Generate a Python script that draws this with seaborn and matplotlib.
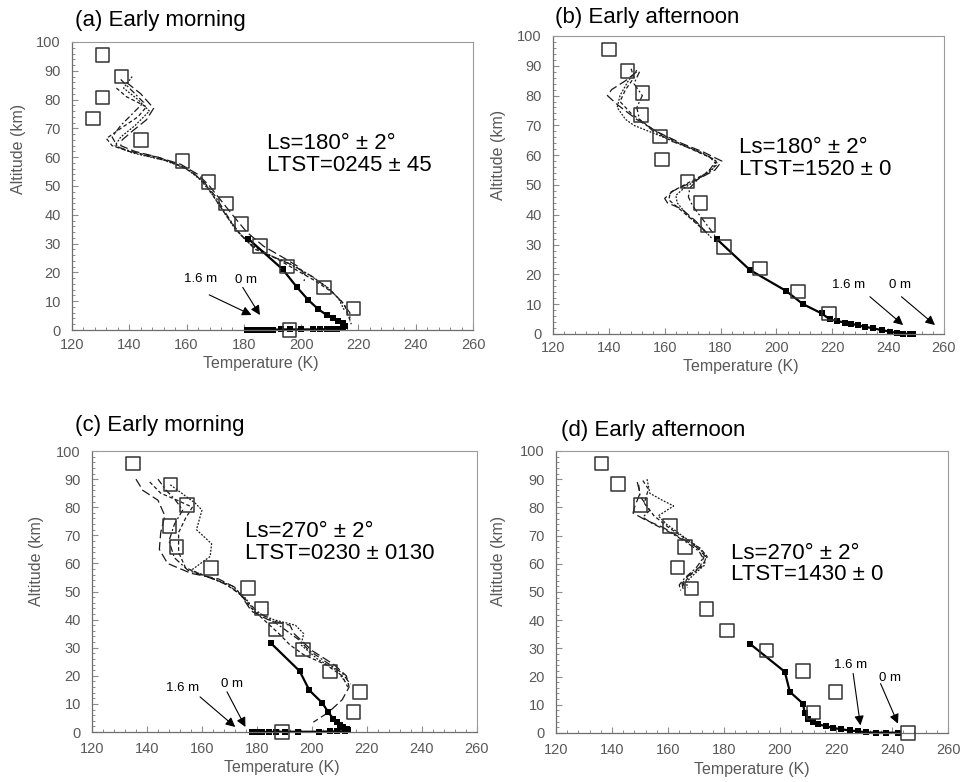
import seaborn as sns
import matplotlib.pyplot as plt
from matplotlib.ticker import MultipleLocator

# === Perfis observados (quadrados abertos) ===
OBS_T_A = [130.6, 137.3, 130.7, 127.4, 144.0, 158.6, 167.6, 173.8, 179.2, 185.6, 195.0, 208.0, 218.2, 195.9]
OBS_Z_A = [95.5, 88.0, 80.8, 73.5, 66.0, 58.7, 51.3, 44.0, 36.8, 29.2, 22.0, 14.8, 7.5, 0.0]
OBS_T_B = [140.1, 146.7, 152.0, 151.5, 158.3, 159.1, 168.1, 172.9, 175.6, 181.2, 194.1, 207.8, 218.9]
OBS_Z_B = [95.5, 88.3, 80.8, 73.5, 66.2, 58.6, 51.1, 43.9, 36.6, 29.1, 22.0, 14.2, 6.9]
OBS_T_C = [135.0, 148.6, 154.6, 148.2, 150.7, 163.3, 176.7, 181.6, 186.9, 196.7, 206.5, 217.5, 215.1, 189.1]
OBS_Z_C = [95.6, 88.1, 80.8, 73.3, 65.9, 58.4, 51.3, 43.9, 36.5, 29.3, 21.6, 14.3, 7.1, 0.0]
OBS_T_D = [136.3, 142.2, 150.2, 160.7, 166.0, 163.4, 168.4, 173.7, 181.1, 195.1, 208.2, 219.8, 212.0, 245.7]
OBS_Z_D = [95.6, 88.2, 80.8, 73.4, 66.0, 58.7, 51.2, 43.9, 36.4, 29.3, 21.9, 14.6, 7.2, 0.0]

# === Perfil do lander (linha cheia com marcadores) ===
LANDER_T_A = [181.6, 193.5, 198.4, 202.5, 206.0, 208.9, 211.2, 213.0, 214.5, 215.3, 214.7, 212.5, 211.0,
              209.0, 206.5, 204.0, 200.0, 196.0, 193.0, 190.0, 188.0, 186.5, 185.0, 184.0, 183.0, 182.0, 181.0]
LANDER_Z_A = [31.6, 21.1, 15.0, 10.4, 7.2, 5.2, 4.0, 3.2, 2.3, 1.4, 0.6, 0.3, 0.3,
              0.3, 0.2, 0.2, 0.2, 0.2, 0.2, 0.1, 0.1, 0.1, 0.1, 0.1, 0.1, 0.0, 0.0]
LANDER_T_B = [178.6, 190.5, 203.4, 209.4, 216.2, 219.2, 221.6, 224.5, 226.9, 229.3, 231.7, 234.7,
              237.7, 240.7, 243.1, 245.4, 247.8, 249.0]
LANDER_Z_B = [31.9, 21.5, 14.5, 10.1, 6.9, 4.9, 4.4, 3.8, 3.4, 2.9, 2.4, 1.9, 1.3, 0.8, 0.3, 0.1, 0.0, 0.0]
LANDER_T_C = [185.0, 195.5, 199.1, 203.8, 205.9, 207.7, 209.0, 210.2, 211.4, 212.6, 213.0, 212.0, 209.0,
              206.5, 202.6, 194.8, 190.3, 186.9, 184.4, 182.0, 179.5, 178.3]
LANDER_Z_C = [31.7, 21.7, 14.8, 10.3, 7.1, 4.8, 3.6, 2.6, 1.8, 1.2, 0.6, 0.3, 0.2,
              0.2, 0.1, 0.1, 0.1, 0.1, 0.0, 0.0, 0.0, 0.0]
LANDER_T_D = [189.4, 201.7, 203.5, 208.2, 208.8, 210.0, 211.6, 213.6, 216.3, 218.9, 221.9, 224.9,
              227.8, 230.8, 234.4, 238.0, 242.1]
LANDER_Z_D = [31.5, 21.7, 14.6, 10.4, 7.1, 5.1, 3.9, 3.1, 2.4, 1.8, 1.3, 0.9, 0.6, 0.2, 0.1, 0.1, 0.1]

# === Perfis de modelo (tracejados), 4 por painel ===
MOD_A1_T = [139, 144, 148.5, 146, 141, 137.5, 137, 142, 150, 158, 164, 168, 172, 176, 181, 187, 194, 199, 201.5, 201]
MOD_A1_Z = [86, 82, 77, 73, 69, 66, 64, 62, 60, 57.5, 54, 50, 45, 40, 34, 29, 25, 22, 19, 17]
MOD_A2_T = [135.5, 139, 146, 143, 137, 132, 134, 140, 150, 158, 163, 167, 171, 175, 179, 184, 191, 198, 205, 211, 215, 216.5, 217.5]
MOD_A2_Z = [84, 81, 77.5, 74, 70, 66.5, 64, 62, 60, 57, 54, 50, 44, 38, 33, 28, 25, 21, 17, 13, 9, 5, 2]
MOD_A3_T = [141, 138, 143, 147, 142, 137, 135, 141, 152, 160, 165, 169, 173, 177, 182, 189, 196, 203, 209, 213, 215]
MOD_A3_Z = [88, 84, 80, 76, 71, 67, 64, 61.5, 59, 56, 52, 47, 41, 35, 30, 26, 23, 19, 15, 11, 7]
MOD_A4_T = [137, 141, 145, 141, 137, 134, 136, 144, 154, 161, 166, 170, 174, 178, 183, 190, 197, 204, 210, 214, 217, 217]
MOD_A4_Z = [87, 83, 79, 75, 71, 67, 63.5, 61, 58.5, 55.5, 51.5, 46.5, 40, 34, 29, 25.5, 22.5, 18.5, 14, 10, 6, 3]

MOD_B1_T = [150, 146, 141, 139.5, 143, 150, 158, 166, 174, 180.5, 178, 171, 163, 160, 161, 166, 171, 176]
MOD_B1_Z = [88, 85, 82, 80, 77, 72, 67.5, 64, 61, 58, 55, 51.5, 48, 45.5, 44, 42, 38, 33]
MOD_B2_T = [148, 149, 146, 144, 148, 156, 164, 172, 178, 179, 175, 168, 162, 161.5, 164, 169, 175]
MOD_B2_Z = [89, 86, 82, 78, 74, 68.5, 64.5, 61, 58.5, 57, 54, 50.5, 47.5, 45, 43, 39, 34]
MOD_B3_T = [150, 147, 144, 143, 146, 149, 157, 165, 173, 178.5, 177, 172, 167, 164, 164.5, 168, 173, 177]
MOD_B3_Z = [88.5, 85, 80, 76, 72, 70, 67, 64, 61, 58, 55, 52, 49, 46.5, 44, 40, 36, 32]
MOD_B4_T = [151, 149, 152, 150, 151, 156, 163, 170, 176, 178, 176, 172, 169, 168.5, 170, 174, 178]
MOD_B4_Z = [88, 84, 80, 76, 72, 68, 64.5, 62, 59.5, 57.5, 55, 52, 49, 46, 43, 38, 33]

MOD_C1_T = [136, 138.5, 144, 146.5, 145, 144.5, 147.5, 156, 166, 172, 175, 178, 184, 192, 193.5, 200, 208, 212.5, 213.5, 211, 206, 200.5]
MOD_C1_Z = [90, 86, 82.5, 77, 71, 65, 60, 56.5, 54.5, 51.5, 47.5, 43, 40, 38, 35, 29, 24, 20, 16, 11.5, 7, 3.5]
MOD_C2_T = [141, 145, 151, 156.5, 154, 151.5, 151.5, 154, 160, 168, 174, 178, 183, 188, 192, 197, 205, 211, 213]
MOD_C2_Z = [89, 85, 82.5, 80, 76, 71, 64, 58.5, 56, 53, 49, 44, 39.5, 35, 31, 27.5, 24, 20, 16]
MOD_C3_T = [148.5, 154, 157.5, 160, 158, 163.5, 163, 156, 163, 171, 176, 179, 186, 194, 197, 196, 202, 209, 212]
MOD_C3_Z = [88, 84, 81.5, 79, 72, 67, 62.5, 57.5, 55, 52, 47.5, 43, 40, 38, 35, 31, 26, 22, 18]
MOD_C4_T = [144, 147, 150, 153, 150, 148, 150, 155, 164, 170, 175, 180, 188, 195, 199, 205, 211, 214]
MOD_C4_Z = [90, 86, 83, 79, 74, 68, 62, 57.5, 54.5, 52, 48, 43, 38, 33, 29, 25, 21, 17]

MOD_D1_T = [149, 150, 148, 147.5, 152, 158, 164, 170, 173, 171.5, 167, 165, 165.5]
MOD_D1_Z = [89, 85, 80, 78, 75.5, 73, 69.5, 66, 63, 59, 55.5, 53, 50.5]
MOD_D2_T = [151, 153, 151.5, 155, 160, 166, 171.5, 174, 172, 168, 165.5, 166]
MOD_D2_Z = [89.5, 86.5, 81.5, 77, 73, 69, 65.5, 62.5, 59, 56, 53, 51]
MOD_D3_T = [152.5, 153.5, 158, 162, 156.5, 159.5, 165, 170, 173.5, 173, 169, 166.5, 167]
MOD_D3_Z = [90, 85, 82.5, 80.5, 77, 74, 70, 66.5, 63, 59.5, 56, 53.5, 51.5]
MOD_D4_T = [149.5, 150, 153.5, 151, 154, 160, 166, 171, 172.5, 170, 166, 164, 164.5]
MOD_D4_Z = [88, 84, 79, 76.5, 74.5, 71.5, 68, 64.5, 62, 58.5, 55, 52.5, 50.5]

# === Textos ===
TITLES = ["(a) Early morning", "(b) Early afternoon", "(c) Early morning", "(d) Early afternoon"]
NOTES = ["Ls=180° ± 2°\nLTST=0245 ± 45", "Ls=180° ± 2°\nLTST=1520 ± 0",
         "Ls=270° ± 2°\nLTST=0230 ± 0130", "Ls=270° ± 2°\nLTST=1430 ± 0"]

# setas "1.6 m" e "0 m": (texto), (início), (ponta)
ARROWS_A = [((164.7, 17.7), (167.9, 12.2), (182.7, 5.2)), ((180.8, 17.4), (179.6, 14.8), (185.6, 5.2))]
ARROWS_B = [((225.7, 16.4), (233.5, 12.5), (245.4, 3.0)), ((244.2, 16.6), (244.8, 12.5), (256.8, 3.0))]
ARROWS_C = [((153.1, 15.7), (159.3, 12.5), (172.1, 1.8)), ((170.9, 17.2), (169.1, 14.3), (175.8, 1.8))]
ARROWS_D = [((225.2, 24.0), (226.1, 21.1), (228.7, 2.7)), ((239.1, 19.6), (235.9, 17.5), (242.1, 3.3))]

GRAY = "#595959"
DASHES = [(0, (7, 3)), (0, (3, 2)), (0, (1.5, 1.2)), (0, (5, 2, 1.5, 2))]

sns.set_theme(style="white")
plt.rcParams["font.family"] = ["Liberation Sans", "DejaVu Sans"]

fig = plt.figure(figsize=(9.63, 7.82), dpi=100)

# posições medidas em pixels no original
AX_POS = [
    [0.0748, 0.578, 0.4164, 0.3683],
    [0.5742, 0.5729, 0.4060, 0.3811],
    [0.0955, 0.0639, 0.3998, 0.3593],
    [0.5774, 0.0627, 0.4071, 0.3606],
]
YLAB_XY = [(-0.115, 0.63), (-0.12, 0.60), (-0.125, 0.61), (-0.128, 0.61)]
XLAB_XY = [(0.47, -0.09), (0.48, -0.085), (0.493, -0.1), (0.499, -0.104)]
XPAD = [5.5, 5, 7, 7]
NOTE_XY = [(0.486, 0.685), (0.476, 0.66), (0.397, 0.75), (0.446, 0.675)]
TITLE_XY = [(0.078, 0.974), (0.576, 0.978), (0.078, 0.4565), (0.5826, 0.450)]

panels = [
    (OBS_T_A, OBS_Z_A, LANDER_T_A, LANDER_Z_A,
     [(MOD_A1_T, MOD_A1_Z), (MOD_A2_T, MOD_A2_Z), (MOD_A3_T, MOD_A3_Z), (MOD_A4_T, MOD_A4_Z)], ARROWS_A),
    (OBS_T_B, OBS_Z_B, LANDER_T_B, LANDER_Z_B,
     [(MOD_B1_T, MOD_B1_Z), (MOD_B2_T, MOD_B2_Z), (MOD_B3_T, MOD_B3_Z), (MOD_B4_T, MOD_B4_Z)], ARROWS_B),
    (OBS_T_C, OBS_Z_C, LANDER_T_C, LANDER_Z_C,
     [(MOD_C1_T, MOD_C1_Z), (MOD_C2_T, MOD_C2_Z), (MOD_C3_T, MOD_C3_Z), (MOD_C4_T, MOD_C4_Z)], ARROWS_C),
    (OBS_T_D, OBS_Z_D, LANDER_T_D, LANDER_Z_D,
     [(MOD_D1_T, MOD_D1_Z), (MOD_D2_T, MOD_D2_Z), (MOD_D3_T, MOD_D3_Z), (MOD_D4_T, MOD_D4_Z)], ARROWS_D),
]

for i, (obs_t, obs_z, lan_t, lan_z, models, arrows) in enumerate(panels):
    ax = fig.add_axes(AX_POS[i])

    # modelos tracejados
    for (mt, mz), ls in zip(models, DASHES):
        sns.lineplot(x=mt, y=mz, ax=ax, sort=False, estimator=None,
                     color="#1a1a1a", lw=0.9, linestyle=ls)

    # lander
    sns.lineplot(x=lan_t, y=lan_z, ax=ax, sort=False, estimator=None, color="black",
                 lw=1.6, marker="s", markersize=4, markeredgewidth=0, clip_on=False)

    # observações
    sns.scatterplot(x=obs_t, y=obs_z, ax=ax, marker="s", s=95, facecolor="none",
                    edgecolor="#333333", linewidth=1.1, clip_on=False, zorder=5)

    # setas
    for (txt_xy, start, tip), lab in zip(arrows, ["1.6 m", "0 m"]):
        ax.text(txt_xy[0], txt_xy[1], lab, ha="center", va="center", fontsize=9.5, color="black")
        ax.annotate("", xy=tip, xytext=start,
                    arrowprops=dict(arrowstyle="-|>", color="black", lw=0.8, mutation_scale=14,
                                    shrinkA=0, shrinkB=0))

    ax.text(NOTE_XY[i][0], NOTE_XY[i][1], NOTES[i], transform=ax.transAxes, ha="left", va="top",
            fontsize=16, color="black", linespacing=1.05)

    ax.set_xlim(120, 260)
    ax.set_ylim(0, 100)
    ax.set_xticks(range(120, 261, 20))
    ax.set_yticks(range(0, 101, 10))
    ax.xaxis.set_minor_locator(MultipleLocator(4))
    ax.yaxis.set_minor_locator(MultipleLocator(2))
    ax.tick_params(axis="both", which="both", direction="in", bottom=True, left=True,
                   colors="#8c8c8c", labelcolor=GRAY, labelsize=10.5)
    ax.tick_params(which="major", length=4, width=0.8)
    ax.tick_params(which="minor", length=2.5, width=0.7)
    ax.tick_params(axis="x", which="major", pad=XPAD[i])
    ax.tick_params(axis="y", which="major", pad=8)

    ax.set_xlabel("Temperature (K)", fontsize=11.5, color=GRAY)
    ax.set_ylabel("Altitude (km)", fontsize=11.5, color=GRAY)
    ax.xaxis.set_label_coords(*XLAB_XY[i])
    ax.yaxis.set_label_coords(*YLAB_XY[i])

    for side in ["left", "bottom"]:
        ax.spines[side].set_color("#6e6e6e")
        ax.spines[side].set_linewidth(0.9)
    for side in ["top", "right"]:
        ax.spines[side].set_color("#9a9a9a")
        ax.spines[side].set_linewidth(0.8)

    fig.text(TITLE_XY[i][0], TITLE_XY[i][1], TITLES[i], ha="left", va="center", fontsize=16, color="black")

fig.savefig("out.png", dpi=100)
